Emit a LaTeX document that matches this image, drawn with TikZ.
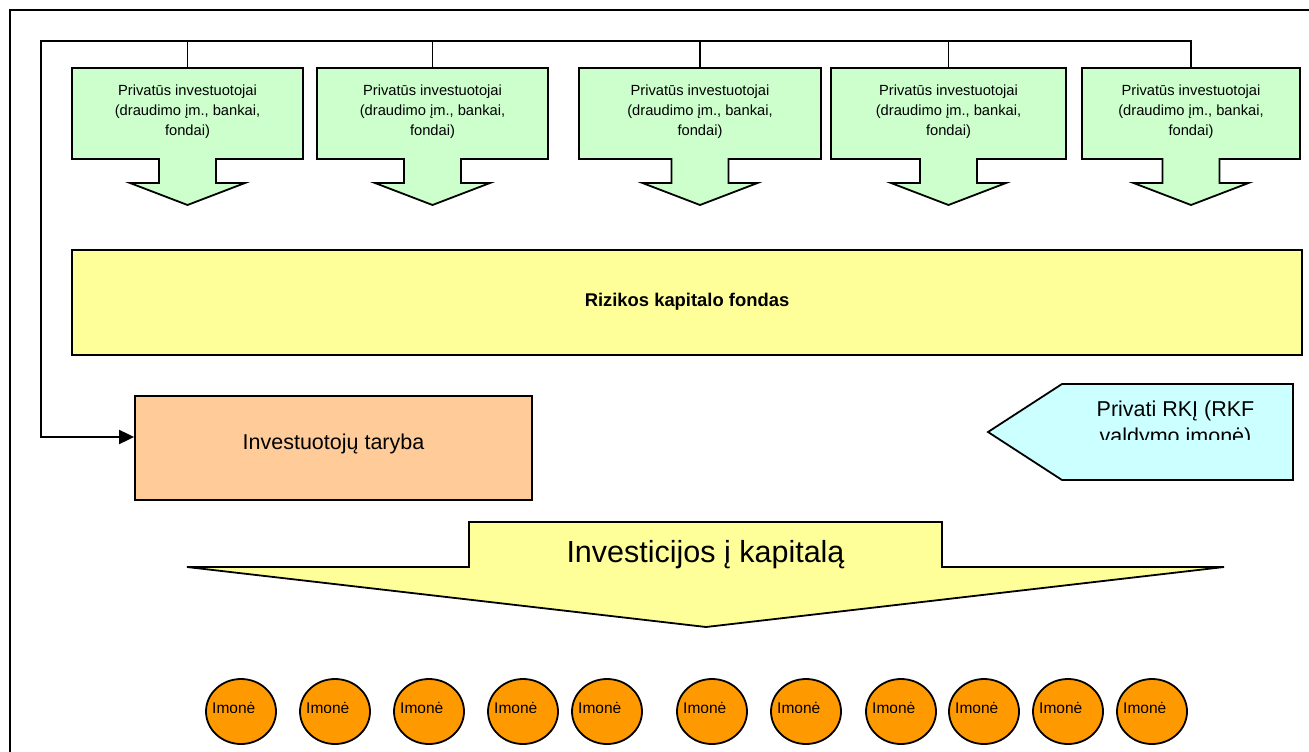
\documentclass[tikz,border=0pt]{standalone}
\usepackage{fontspec}
\setmainfont{Liberation Sans}
\usetikzlibrary{arrows.meta,shapes.geometric,calc}

\definecolor{invgreen}{HTML}{CCFFCC}
\definecolor{fundyellow}{HTML}{FFFF99}
\definecolor{boardorange}{HTML}{FFCC99}
\definecolor{mgmtcyan}{HTML}{CCFFFF}
\definecolor{firmorange}{HTML}{FF9900}

\newcommand\pxfont[2]{\fontsize{#1}{#2}\selectfont}

\tikzset{
  outline/.style={draw=black, line width=1.8pt, line join=miter},
  conn/.style={draw=black, line width=1.9pt},
  frameline/.style={draw=black, line width=2.6pt},
  invtext/.style={align=center, inner sep=0pt, font=\pxfont{14.7}{20}},
  fundtext/.style={inner sep=0pt, font=\pxfont{18.4}{22}\bfseries},
  boardbox/.style={outline, fill=boardorange, rectangle, inner sep=0pt},
  plaintext/.style={inner sep=0pt, font=\pxfont{21.5}{26}},
  bigtext/.style={inner sep=0pt, font=\pxfont{30.5}{36}},
  firm/.style={outline, fill=firmorange, ellipse, inner sep=0pt,
    minimum width=70pt, minimum height=65pt},
  firmtext/.style={inner sep=0pt, font=\pxfont{15.5}{18}},
}

% investor box with a downward arrow: name, left x, right x
\newcommand\investorbox[3]{%
  \pgfmathsetmacro\cx{(#2+#3)/2}
  \draw[outline, fill=invgreen] (#2,68) -- (#3,68) -- (#3,159)
    -- (\cx+28.5,159) -- (\cx+28.5,183) -- (\cx+57.5,183) -- (\cx,205)
    -- (\cx-57.5,183) -- (\cx-28.5,183) -- (\cx-28.5,159) -- (#2,159) -- cycle;
  \node[invtext] (#1) at (\cx,111.5)
    {Privatūs investuotojai\\(draudimo įm., bankai,\\fondai)};
  \coordinate (#1top) at (\cx,68);
}

\begin{document}
\begin{tikzpicture}[x=1pt, y=-1pt]
\useasboundingbox (0,0) rectangle (1309,752);
\fill[white] (0,0) rectangle (1309,752);

% outer frame (top and left edges)
\draw[frameline] (1309,10) -- (10,10) -- (10,752);

% private investors
\investorbox{p1}{72}{303}
\investorbox{p2}{317}{548}
\investorbox{p3}{579}{821}
\investorbox{p4}{831}{1066}
\investorbox{p5}{1082}{1300}

% venture capital fund
\node[outline, fill=fundyellow, rectangle, inner sep=0pt,
  minimum width=1230pt, minimum height=105pt] (fund) at (687,302.5) {};
\node[fundtext, anchor=base] (fundlabel) at (687,306.5) {Rizikos kapitalo fondas};

% investors' board
\node[boardbox, minimum width=397pt, minimum height=104pt] (board) at (333.5,448) {};
\node[plaintext, anchor=base] (boardlabel) at (333.5,449) {Investuotojų taryba};

% connector from the investors to the board
\coordinate (bus) at (41,41);
\draw[conn, -{Triangle[length=15pt, width=14pt]}]
  (p5top) |- (bus) |- ([yshift=11pt]board.west);
\foreach \n in {p1,p2,p3,p4}
  \draw[conn] (\n top) -- (\n top |- bus);

% private management company
\draw[outline, fill=mgmtcyan] (988,432) -- (1062,384) -- (1293,384)
  -- (1293,480) -- (1062,480) -- cycle;
\node[plaintext, anchor=base] (mgmtA) at (1175.5,416.5) {Privati RKĮ (RKF};
\begin{scope}
  \clip (1062,420) rectangle (1293,439);
  \node[plaintext, anchor=base] (mgmtB) at (1175.5,443) {valdymo įmonė)};
\end{scope}

% investments into capital
\draw[outline, fill=fundyellow] (469,522) -- (942,522) -- (942,567)
  -- (1224,567) -- (706,627) -- (187,567) -- (469,567) -- cycle;
\node[bigtext, anchor=base] (invest) at (705.5,562) {Investicijos į kapitalą};

% companies
\foreach [count=\i] \x in {241,335,429,523,607,712,806,901,984,1068,1152} {
  \node[firm] (f\i) at (\x,711.5) {};
  \begin{scope}
    \clip (\x-35,690) rectangle (\x+35,712);
    \node[firmtext, anchor=base west] at (\x-29,713.5) {Įmonė};
  \end{scope}
}
\end{tikzpicture}
\end{document}
